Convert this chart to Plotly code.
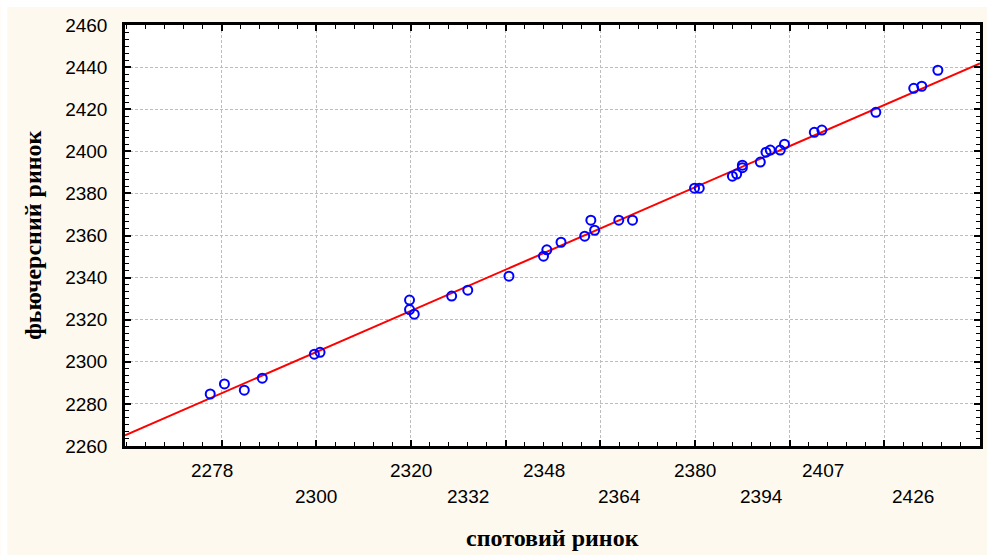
import plotly.graph_objects as go

# ---- data ----
spot = [2277.6, 2280.6, 2284.8, 2288.6, 2299.6, 2300.8, 2319.7, 2319.7, 2320.7,
        2328.6, 2332.0, 2340.7, 2348.0, 2348.7, 2351.7, 2356.7, 2358.0, 2358.8,
        2363.9, 2366.8, 2379.9, 2380.9, 2387.9, 2388.8, 2390.0, 2390.0, 2393.8,
        2395.0, 2395.9, 2398.0, 2398.9, 2405.2, 2406.8, 2418.2, 2426.2, 2427.9,
        2431.3]
futures = [2284.7, 2289.5, 2286.5, 2292.2, 2303.6, 2304.5, 2329.3, 2324.8, 2322.6,
           2331.2, 2334.0, 2340.7, 2350.2, 2353.2, 2356.8, 2359.7, 2367.3, 2362.5,
           2367.3, 2367.3, 2382.5, 2382.5, 2388.2, 2389.2, 2392.2, 2393.4, 2394.9,
           2399.6, 2400.6, 2400.6, 2403.4, 2409.0, 2410.1, 2418.5, 2429.9, 2430.9,
           2438.5]

fit_x = [2259.6, 2440.2]
fit_y = [2265.1, 2441.8]

x_label_vals = [2278, 2300, 2320, 2332, 2348, 2364, 2380, 2394, 2407, 2426]
x_label_row = [0, 1, 0, 1, 0, 1, 0, 1, 0, 1]
x_grid_vals = [2280, 2300, 2320, 2340, 2360, 2380, 2400, 2420]
y_tick_vals = [2260, 2280, 2300, 2320, 2340, 2360, 2380, 2400, 2420, 2440, 2460]

x_title = "спотовий ринок"
y_title = "фьючерсний ринок"

CREAM = "#FEF9EE"
W, H = 987, 555
ML, MR, MT, MB = 125, 4, 25, 109
PW, PH = W - ML - MR, H - MT - MB


def py(pix):
    """pixel row -> paper y"""
    return (H - MB - pix) / PH


def px(pix):
    return (pix - ML) / PW


fig = go.Figure()

fig.add_trace(go.Scatter(
    x=fit_x, y=fit_y, mode="lines",
    line=dict(color="#FF0000", width=2),
    hoverinfo="skip", showlegend=False,
))
fig.add_trace(go.Scatter(
    x=spot, y=futures, mode="markers",
    marker=dict(symbol="circle-open", size=9, color="#0000FF",
                line=dict(width=2, color="#0000FF")),
    showlegend=False,
))

axis_common = dict(
    showline=True, linecolor="black", linewidth=2.5, mirror="ticks",
    ticks="inside", ticklen=6, tickwidth=1.5, tickcolor="black",
    showgrid=True, gridcolor="#bdbdbd", gridwidth=1, griddash="3px,2px",
    zeroline=False,
)

fig.update_xaxes(
    range=[2259.6, 2440.2], tickmode="array", tickvals=x_grid_vals,
    showticklabels=False,
    minor=dict(ticks="inside", ticklen=4, tickwidth=1, tickcolor="black",
               dtick=4, tick0=2260, showgrid=False),
    **axis_common,
)
fig.update_yaxes(
    range=[2260, 2460], tickmode="array", tickvals=y_tick_vals,
    ticktext=[str(v) for v in y_tick_vals],
    tickfont=dict(family="Liberation Sans, Arial", size=19, color="black"),
    ticklabelstandoff=11,
    minor=dict(ticks="inside", ticklen=4, tickwidth=1, tickcolor="black",
               dtick=20 / 6, tick0=2260, showgrid=False),
    **axis_common,
)

annotations = []
for v, r in zip(x_label_vals, x_label_row):
    annotations.append(dict(
        x=v, xref="x", y=py(470 + 26.5 * r), yref="paper",
        text=str(v), showarrow=False, xanchor="center", yanchor="middle",
        font=dict(family="Liberation Sans, Arial", size=19, color="black"),
    ))
annotations.append(dict(
    x=0.5, xref="paper", y=py(538), yref="paper", text="<b>%s</b>" % x_title,
    showarrow=False, xanchor="center", yanchor="middle",
    font=dict(family="Liberation Serif, Times New Roman", size=24, color="black"),
))
annotations.append(dict(
    x=px(32), xref="paper", y=0.5, yref="paper", text="<b>%s</b>" % y_title,
    showarrow=False, xanchor="center", yanchor="middle", textangle=-90,
    font=dict(family="Liberation Serif, Times New Roman", size=24, color="black"),
))

shapes = [
    dict(type="rect", xref="paper", yref="paper", x0=px(0), x1=px(7),
         y0=py(H + 5), y1=py(-5), fillcolor="white", line=dict(width=0),
         layer="below"),
    dict(type="rect", xref="paper", yref="paper", x0=px(0), x1=px(W + 5),
         y0=py(7), y1=py(-5), fillcolor="white", line=dict(width=0),
         layer="below"),
]

fig.update_layout(
    width=W, height=H,
    margin=dict(l=ML, r=MR, t=MT, b=MB, pad=0),
    paper_bgcolor=CREAM, plot_bgcolor="white",
    annotations=annotations, shapes=shapes,
    showlegend=False,
)

fig.write_html("out.html", config={"displayModeBar": False})
